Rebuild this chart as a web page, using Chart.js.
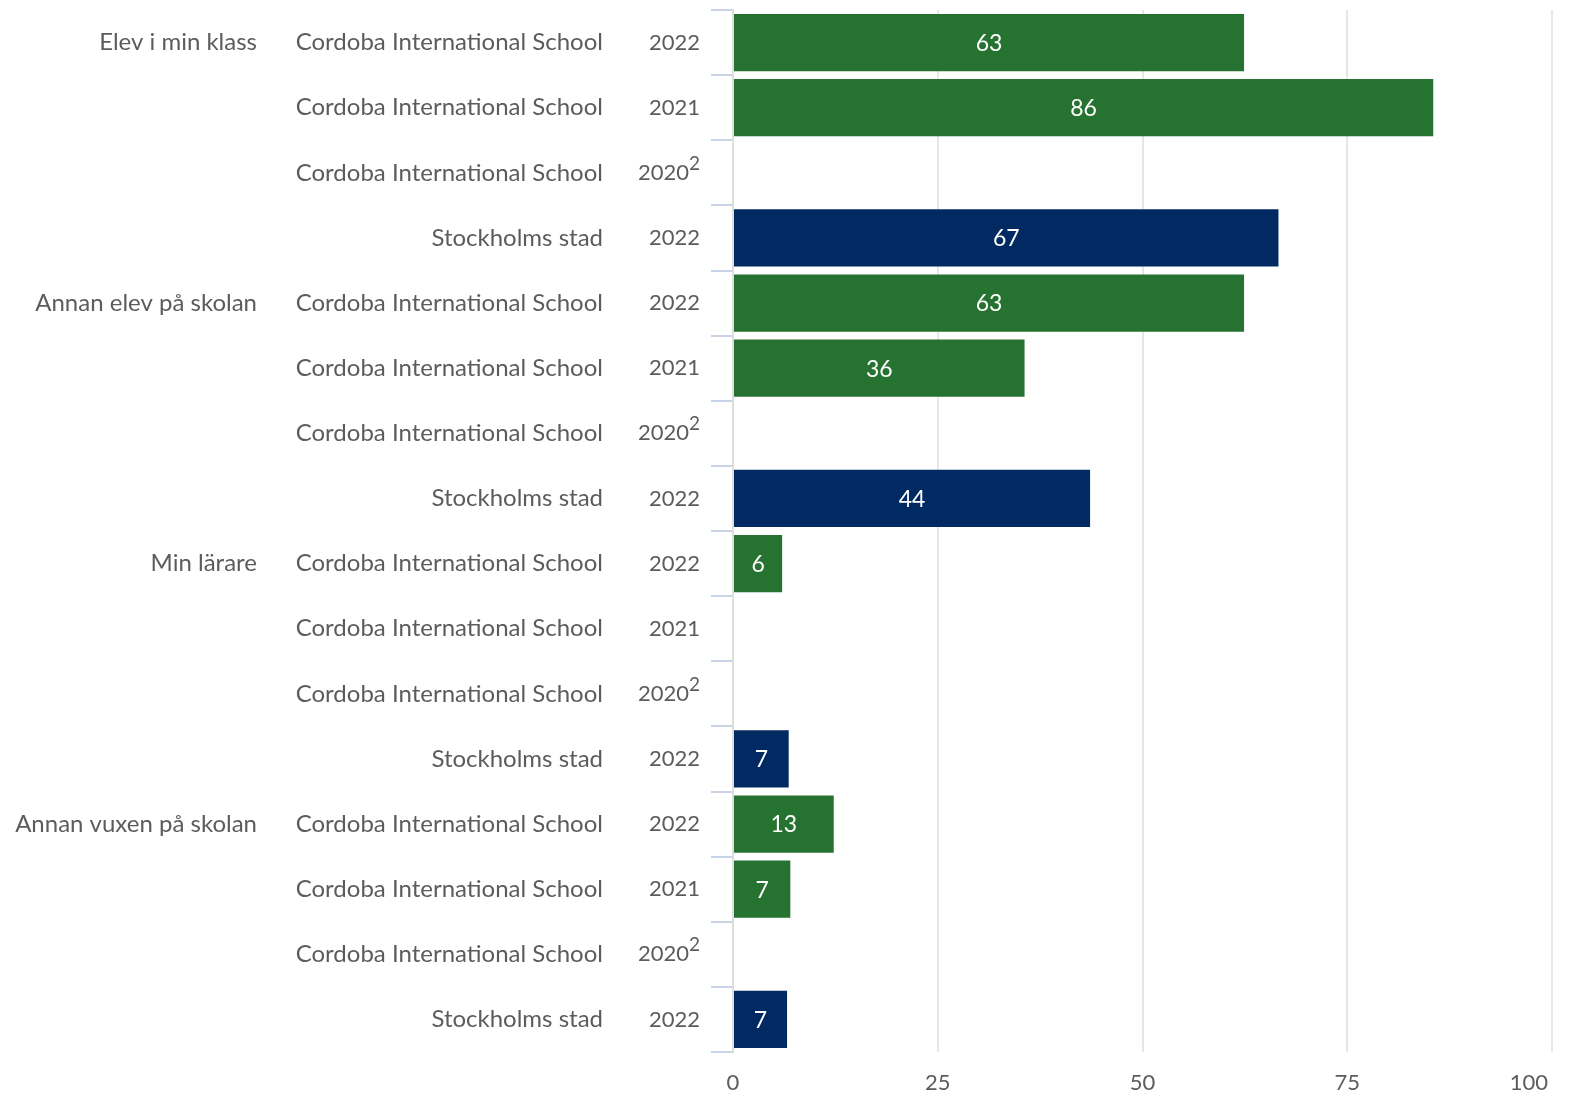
<!DOCTYPE html>
<html>
<head>
<meta charset="utf-8">
<script src="https://cdn.jsdelivr.net/npm/chart.js@4.4.1/dist/chart.umd.min.js"></script>
<style>
  html, body { margin: 0; padding: 0; background: #ffffff; }
  #wrap { width: 1570px; height: 1096px; position: relative; }
</style>
</head>
<body>
<div id="wrap"><canvas id="c" width="1570" height="1096"></canvas></div>
<script>
// ---- Data ----
const groupLabels = ["Elev i min klass", "", "", "", "Annan elev på skolan", "", "", "", "Min lärare", "", "", "", "Annan vuxen på skolan", "", "", ""];
const unitLabels = ["Cordoba International School", "Cordoba International School", "Cordoba International School", "Stockholms stad",
                    "Cordoba International School", "Cordoba International School", "Cordoba International School", "Stockholms stad",
                    "Cordoba International School", "Cordoba International School", "Cordoba International School", "Stockholms stad",
                    "Cordoba International School", "Cordoba International School", "Cordoba International School", "Stockholms stad"];
const yearLabels = ["2022", "2021", "2020", "2022", "2022", "2021", "2020", "2022", "2022", "2021", "2020", "2022", "2022", "2021", "2020", "2022"];
const yearNotes = ["", "", "2", "", "", "", "2", "", "", "", "2", "", "", "", "2", ""];
const values = [62.4, 85.5, null, 66.6, 62.4, 35.6, null, 43.6, 6.0, null, null, 6.8, 12.3, 7.0, null, 6.6];
const valueLabels = ["63", "86", "", "67", "63", "36", "", "44", "6", "", "", "7", "13", "7", "", "7"];
const isCity = [false, false, false, true, false, false, false, true, false, false, false, true, false, false, false, true];
const xTicks = [0, 25, 50, 75, 100];

const GREEN = "#267230";
const NAVY = "#002a61";
const TEXT = "#5c5c5c";
const FONT = "Lato, 'DejaVu Sans', sans-serif";

const labelPlugin = {
  id: 'labelPlugin',
  afterDraw(chart) {
    const ctx = chart.ctx;
    const y = chart.scales.y;
    const x = chart.scales.x;
    ctx.save();
    ctx.fillStyle = TEXT;
    ctx.textBaseline = "middle";
    for (let i = 0; i < unitLabels.length; i++) {
      const py = y.getPixelForValue(i);
      ctx.textAlign = "right";
      ctx.font = "24px " + FONT;
      if (groupLabels[i]) ctx.fillText(groupLabels[i], 257, py);
      ctx.fillText(unitLabels[i], 603, py);
      ctx.font = "22px " + FONT;
      if (yearNotes[i]) {
        ctx.fillText(yearLabels[i], 689, py);
        ctx.textAlign = "left";
        ctx.font = "19px " + FONT;
        ctx.fillText(yearNotes[i], 689, py - 9);
      } else {
        ctx.fillText(yearLabels[i], 700, py);
      }
    }
    // x tick labels
    ctx.font = "22px " + FONT;
    ctx.textBaseline = "middle";
    for (const v of xTicks) {
      let px = x.getPixelForValue(v);
      const w = ctx.measureText(String(v)).width;
      if (px + w / 2 > 1548) px = 1548 - w / 2;
      ctx.textAlign = "center";
      ctx.fillText(String(v), px, 1083);
    }
    // value labels
    const meta = chart.getDatasetMeta(0);
    ctx.fillStyle = "#ffffff";
    ctx.textAlign = "center";
    ctx.font = "23px " + FONT;
    meta.data.forEach((bar, i) => {
      if (values[i] == null) return;
      const cx = (bar.x + bar.base) / 2;
      ctx.fillText(valueLabels[i], cx, bar.y + 1);
    });
    ctx.restore();
  }
};

new Chart(document.getElementById('c'), {
  type: 'bar',
  data: {
    labels: unitLabels.map((u, i) => u + " " + yearLabels[i]),
    datasets: [{
      data: values,
      backgroundColor: isCity.map(c => c ? NAVY : GREEN),
      borderWidth: 0,
      categoryPercentage: 1.0,
      barPercentage: 0.88
    }]
  },
  options: {
    indexAxis: 'y',
    responsive: false,
    animation: false,
    devicePixelRatio: 1,
    layout: { padding: { left: 0, right: 18, top: 10, bottom: 44 } },
    plugins: { legend: { display: false }, tooltip: { enabled: false } },
    scales: {
      x: {
        min: 0, max: 100,
        ticks: { display: false, stepSize: 25 },
        border: { display: false },
        grid: {
          drawTicks: false,
          lineWidth: 2,
          color: (c) => (c.tick && c.tick.value === 0) ? 'rgba(0,0,0,0)' : '#e6e6e6'
        }
      },
      y: {
        ticks: { display: false },
        border: { display: true, color: '#dedede', width: 2 },
        grid: {
          drawOnChartArea: false,
          drawTicks: true,
          tickLength: 22,
          color: '#c9d4e8',
          lineWidth: 2,
          offset: true
        },
        afterFit(scale) { scale.width = 733; }
      }
    }
  },
  plugins: [labelPlugin]
});
</script>
</body>
</html>
